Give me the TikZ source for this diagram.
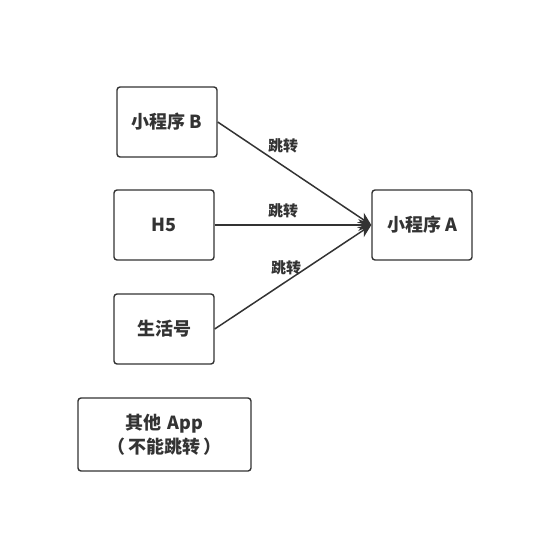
\documentclass[tikz,border=0pt]{standalone}
\usepackage{fontspec}
\setmainfont{Noto Sans CJK SC}
\usetikzlibrary{arrows.meta}
\definecolor{ink}{HTML}{333333}
\begin{document}
\begin{tikzpicture}[x=1pt,y=-1pt,
  box/.style={draw=ink,line width=1.4pt,rounded corners=3pt,inner sep=0pt,text=ink,font=\bfseries\fontsize{18}{24}\selectfont,align=center},
  link/.style={draw=ink,line width=1.5pt,-{Stealth[length=13pt,width=12pt]}},
  lbl/.style={text=ink,font=\bfseries\fontsize{15}{18}\selectfont,inner sep=0pt}]
\useasboundingbox (0,0) rectangle (534,534);
\node[box,minimum width=100pt,minimum height=70pt] (b) at (167,122) {小程序 B};
\node[box,minimum width=100pt,minimum height=70pt] (h) at (164,225) {H5};
\node[box,minimum width=100pt,minimum height=70pt] (s) at (164,329) {生活号};
\node[box,minimum width=173pt,minimum height=73pt] (o) at (164.5,434.5) {其他\hspace{6pt}App\\（\hspace{3pt}不能跳转\hspace{3pt}）};
\node[box,minimum width=100pt,minimum height=70pt] (a) at (422,225) {小程序 A};
\draw[link] (b.east) -- (a.west);
\draw[link] (h.east) -- (a.west);
\draw[link] (s.east) -- (a.west);
\node[lbl] (l1) at (283,146) {跳转};
\node[lbl] (l2) at (283,211) {跳转};
\node[lbl] (l3) at (286,268) {跳转};
\end{tikzpicture}
\end{document}
